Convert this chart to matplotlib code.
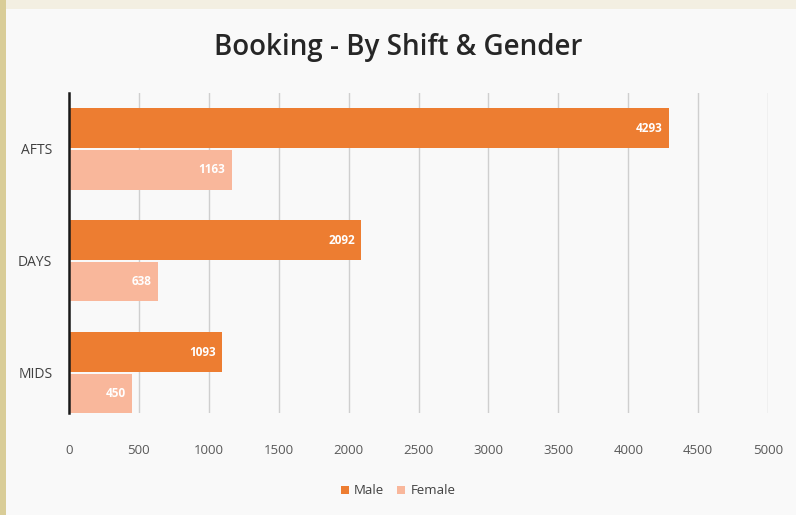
import matplotlib.pyplot as plt
import numpy as np
from matplotlib.patches import Rectangle

shifts = ["MIDS", "DAYS", "AFTS"]
male = [1093, 2092, 4293]
female = [450, 638, 1163]
x_ticks = [0, 500, 1000, 1500, 2000, 2500, 3000, 3500, 4000, 4500, 5000]

MALE_C = "#ed7d31"
FEMALE_C = "#f9b79b"

plt.rcParams["font.family"] = ["Open Sans", "DejaVu Sans"]

fig = plt.figure(figsize=(7.96, 5.15), dpi=100)
fig.patch.set_facecolor("#f3efe2")
# slide panel + gold edge
fig.add_artist(Rectangle((0, 0), 6 / 796, 1, transform=fig.transFigure,
                         facecolor="#d9cd98", edgecolor="none", zorder=0))
fig.add_artist(Rectangle((6 / 796, 0), 1, 1 - 9 / 515, transform=fig.transFigure,
                         facecolor="#f9f9f9", edgecolor="none", zorder=0))

ax = fig.add_axes([69 / 796, 1 - 413 / 515, (768 - 69) / 796, (413 - 93) / 515])
ax.set_facecolor("none")

y = np.arange(len(shifts))
h = 0.355
bm = ax.barh(y + 0.185, male, height=h, color=MALE_C, label="Male", zorder=3)
bf = ax.barh(y - 0.185, female, height=h, color=FEMALE_C, label="Female", zorder=3)

for bars in (bm, bf):
    for b in bars:
        w = b.get_width()
        ax.text(w - 45, b.get_y() + b.get_height() / 2, f"{w:.0f}", ha="right",
                va="center", color="white", fontsize=8.5, fontweight="bold", zorder=4)

ax.set_xlim(0, 5000)
ax.set_ylim(-0.36, 2.5)
ax.set_xticks(x_ticks)
ax.set_yticks(y)
ax.set_yticklabels(shifts)
ax.tick_params(axis="x", length=0, pad=22, labelsize=9.5, labelcolor="#595959")
ax.tick_params(axis="y", length=0, pad=12, labelsize=10, labelcolor="#404040")
ax.grid(axis="x", color="#cfcfcf", linewidth=1, zorder=0)
for s in ("top", "right", "bottom"):
    ax.spines[s].set_visible(False)
ax.spines["left"].set_color("#1a1a1a")
ax.spines["left"].set_linewidth(1.8)
ax.spines["left"].set_zorder(5)

fig.text(0.5, 1 - 48 / 515, "Booking - By Shift & Gender", ha="center", va="center",
         fontsize=20, fontweight="semibold", color="#262626")

fig.legend(handles=[bm, bf], labels=["Male", "Female"], loc="center",
           bbox_to_anchor=(0.5, 1 - 491 / 515), ncol=2, frameon=False,
           fontsize=9.5, handlelength=0.6, handleheight=0.6, handletextpad=0.4,
           columnspacing=1.0, labelcolor="#404040")

fig.savefig("out.png", dpi=100, facecolor=fig.get_facecolor())
